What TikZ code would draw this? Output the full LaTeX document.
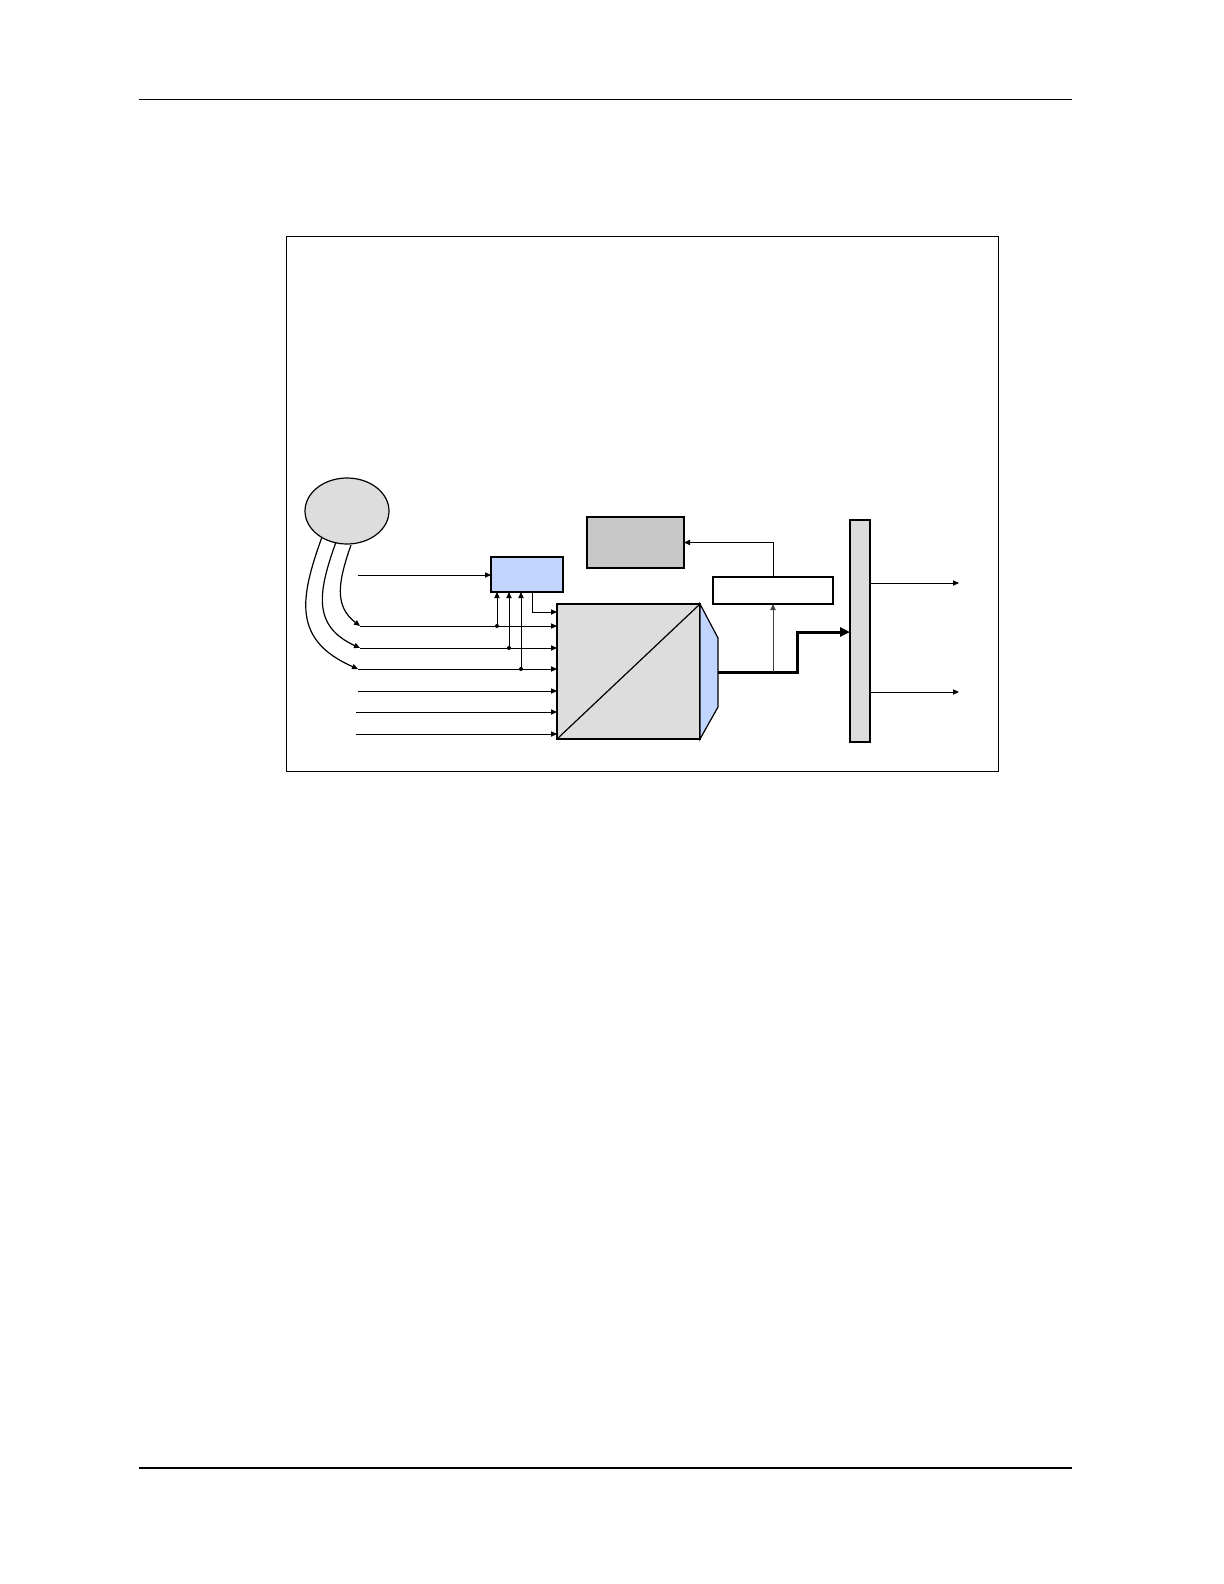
\documentclass[tikz,border=0pt]{standalone}
\usetikzlibrary{arrows.meta,calc,shapes.geometric}
\definecolor{lgray}{HTML}{DDDDDD}
\definecolor{dgray}{HTML}{C8C8C8}
\definecolor{lblue}{HTML}{C2D5FF}
\tikzset{
  shapebox/.style={draw=black,line width=0.6pt,inner sep=0pt,outer sep=0pt},
  arr/.style={line width=0.5pt,-{Triangle[length=3pt,width=2.6pt]}},
  bigarr/.style={line width=1.5pt,-{Triangle[length=5pt,width=4.5pt]}},
  curvearr/.style={line width=0.6pt,-{Triangle[length=3pt,width=2.6pt]}},
  dotmark/.style={circle,fill=black,inner sep=0pt,minimum size=2pt}
}
\begin{document}
\begin{tikzpicture}[x=0.5pt,y=-0.5pt]
\useasboundingbox (0,0) rectangle (1224,1584);
% page rules
\draw[line width=0.5pt] (139,100) -- (1072,100);
\draw[line width=1pt] (139,1468) -- (1072,1468);
% frame
\draw[line width=0.5pt] (286,236) rectangle (998,771);
% shapes
\node[shapebox,ellipse,fill=lgray,minimum width=42pt,minimum height=33pt] (ell) at (347,511) {};
\node[shapebox,fill=lblue,minimum width=36pt,minimum height=17.5pt] (bb) at (527,574.5) {};
\node[shapebox,fill=lgray,minimum width=71.5pt,minimum height=67.5pt] (sq) at (628.5,671.5) {};
\node[shapebox,fill=dgray,minimum width=48.5pt,minimum height=25.5pt] (db) at (635.5,542.5) {};
\node[shapebox,fill=white,minimum width=60pt,minimum height=13.5pt] (wb) at (773,590.5) {};
\node[shapebox,fill=lgray,minimum width=10pt,minimum height=111pt] (bar) at (860,631) {};
% diagonal and trapezoid
\draw[line width=0.6pt] (sq.south west) -- (sq.north east);
\draw[line width=0.6pt,fill=lblue] (sq.north east) -- ++(18,34) -- ++(0,69) -- (sq.south east) -- cycle;
\coordinate (tr) at (718,672);
% inputs
\coordinate (s0) at (358,575);
\coordinate (s1) at (360,626);
\coordinate (s2) at (360,648);
\coordinate (s3) at (358,669);
\coordinate (s4) at (358,691);
\coordinate (s5) at (356,712);
\coordinate (s6) at (356,734);
\coordinate (c0) at (532,612);
\draw[arr] (s0) -- (s0 -| bb.west);
\draw[arr] (c0 |- bb.south) |- (c0 -| sq.west);
\foreach \s in {s1,s2,s3,s4,s5,s6} \draw[arr] (\s) -- (\s -| sq.west);
% taps to blue box
\node[dotmark] (d1) at (497,626) {};
\node[dotmark] (d2) at (509,648) {};
\node[dotmark] (d3) at (521,669) {};
\foreach \d in {d1,d2,d3} \draw[arr] (\d.center) -- (\d.center |- bb.south);
% curves from ellipse
\coordinate (e1) at (351,545);
\coordinate (e2) at (336,542);
\coordinate (e3) at (322,537);
\draw[curvearr] (e1) .. controls (338,582) and (334,606) .. (s1);
\draw[curvearr] (e2) .. controls (318,592) and (312,626) .. (s2);
\draw[curvearr] (e3) .. controls (300,598) and (292,640) .. (s3);
% output path
\coordinate (k) at (797,632);
\draw[bigarr] (tr) -| (k) -- (k -| bar.west);
\draw[arr,black!75] (wb.south |- tr) -- (wb.south);
\draw[arr] (wb.north) |- (db.east);
% outputs
\coordinate (o1) at (959,583);
\coordinate (o2) at (959,692);
\draw[arr] (o1 -| bar.east) -- (o1);
\draw[arr] (o2 -| bar.east) -- (o2);
\end{tikzpicture}
\end{document}
